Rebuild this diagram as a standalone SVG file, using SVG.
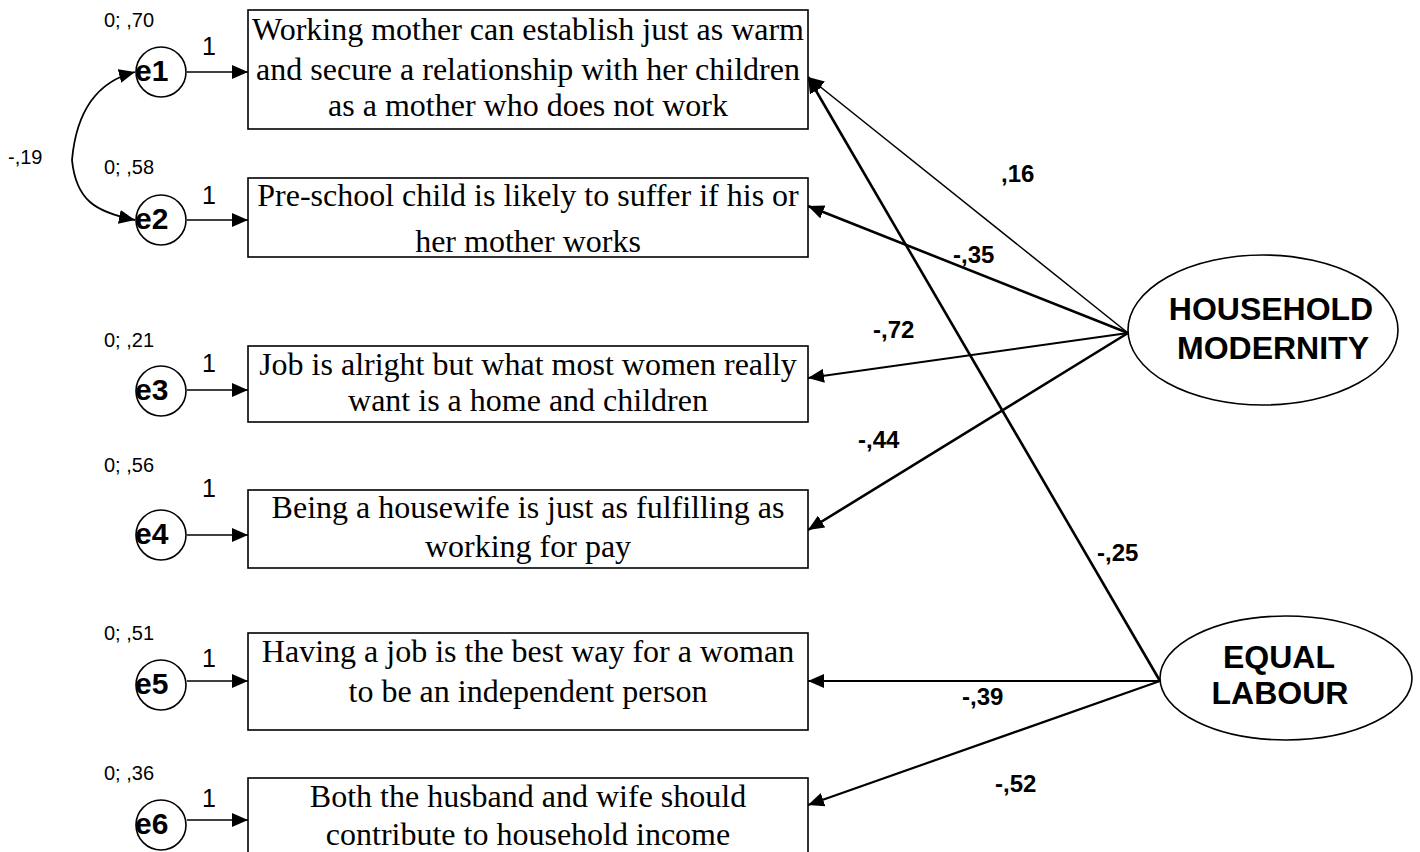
<svg xmlns="http://www.w3.org/2000/svg" width="1420" height="852" viewBox="0 0 1420 852">
<style>
.box{fill:#fff;stroke:#000;stroke-width:1.6}
.bt{font-family:"Liberation Serif","Times New Roman",serif;font-size:32px;text-anchor:middle;fill:#000}
.err{fill:#fff;stroke:#000;stroke-width:1.6}
.et{font-family:"Liberation Sans",Arial,sans-serif;font-size:30px;font-weight:bold;fill:#000}
.sm{font-family:"Liberation Sans",Arial,sans-serif;font-size:20px;fill:#000}
.one{font-family:"Liberation Sans",Arial,sans-serif;font-size:25px;fill:#000}
.lat{fill:#fff;stroke:#000;stroke-width:1.6}
.lt{font-family:"Liberation Sans",Arial,sans-serif;font-size:32px;font-weight:bold;text-anchor:middle;fill:#000}
.pl{font-family:"Liberation Sans",Arial,sans-serif;font-size:24px;font-weight:bold;fill:#000}
.ln{fill:none;stroke:#000;marker-end:url(#ah)}
</style>
<defs>
<marker id="ah" viewBox="0 0 16 14" refX="16" refY="7" markerWidth="16" markerHeight="14" markerUnits="userSpaceOnUse" orient="auto">
<path d="M0,0 L16,7 L0,14 z" fill="#000"/>
</marker>
</defs>
<rect width="1420" height="852" fill="#fff"/>

<g id="connectors">
<path class="ln" style="stroke-width:1.6" d="M187,72 L248,72"/>
<path class="ln" style="stroke-width:1.6" d="M187,220 L248,220"/>
<path class="ln" style="stroke-width:1.6" d="M187,390 L248,390"/>
<path class="ln" style="stroke-width:1.6" d="M187,535 L248,535"/>
<path class="ln" style="stroke-width:1.6" d="M187,681 L248,681"/>
<path class="ln" style="stroke-width:1.6" d="M187,820 L248,820"/>
<path class="ln" style="stroke-width:1.8" d="M72,160 C76,115 95,82 135,72"/>
<path class="ln" style="stroke-width:1.8" d="M72,160 C76,200 95,212 135,220"/>
<path class="ln" style="stroke-width:1.5" d="M1128,333 L808,77"/>
<path class="ln" style="stroke-width:2.6" d="M1128,333 L808,206"/>
<path class="ln" style="stroke-width:1.8" d="M1128,333 L808,378"/>
<path class="ln" style="stroke-width:2.6" d="M1128,333 L808,530"/>
<path class="ln" style="stroke-width:2.6" d="M1160,681 L808,77"/>
<path class="ln" style="stroke-width:2" d="M1160,681 L808,681"/>
<path class="ln" style="stroke-width:2.2" d="M1160,681 L808,805"/>
<text class="sm" x="8" y="164">-,19</text>
<text class="pl" x="1001" y="182">,16</text>
<text class="pl" x="953" y="263">-,35</text>
<text class="pl" x="873" y="338">-,72</text>
<text class="pl" x="858" y="448">-,44</text>
<text class="pl" x="1097" y="561">-,25</text>
<text class="pl" x="962" y="705">-,39</text>
<text class="pl" x="995" y="792">-,52</text>
<text class="one" x="202" y="55">1</text>
<text class="one" x="202" y="204">1</text>
<text class="one" x="202" y="372">1</text>
<text class="one" x="202" y="497">1</text>
<text class="one" x="202" y="667">1</text>
<text class="one" x="202" y="807">1</text>
</g>

<g id="e1"><circle class="err" cx="161" cy="72" r="25"/><text class="et" x="135" y="81">e1</text><text class="sm" x="104" y="27">0; ,70</text></g>
<g id="e2"><circle class="err" cx="161" cy="220" r="25"/><text class="et" x="135" y="229">e2</text><text class="sm" x="104" y="174">0; ,58</text></g>
<g id="e3"><circle class="err" cx="161" cy="391" r="25"/><text class="et" x="135" y="400">e3</text><text class="sm" x="104" y="347">0; ,21</text></g>
<g id="e4"><circle class="err" cx="161" cy="535" r="25"/><text class="et" x="135" y="544">e4</text><text class="sm" x="104" y="472">0; ,56</text></g>
<g id="e5"><circle class="err" cx="161" cy="685" r="25"/><text class="et" x="135" y="694">e5</text><text class="sm" x="104" y="640">0; ,51</text></g>
<g id="e6"><circle class="err" cx="161" cy="825" r="25"/><text class="et" x="135" y="834">e6</text><text class="sm" x="104" y="780">0; ,36</text></g>

<g id="box1"><rect class="box" x="248" y="10" width="560" height="119"/>
<text class="bt" x="528" y="40">Working mother can establish just as warm</text>
<text class="bt" x="528" y="80">and secure a relationship with her children</text>
<text class="bt" x="528" y="116">as a mother who does not work</text></g>
<g id="box2"><rect class="box" x="248" y="178" width="560" height="79"/>
<text class="bt" x="528" y="206">Pre-school child is likely to suffer if his or</text>
<text class="bt" x="528" y="252">her mother works</text></g>
<g id="box3"><rect class="box" x="248" y="346" width="560" height="76"/>
<text class="bt" x="528" y="375">Job is alright but what most women really</text>
<text class="bt" x="528" y="411">want is a home and children</text></g>
<g id="box4"><rect class="box" x="248" y="490" width="560" height="78"/>
<text class="bt" x="528" y="518">Being a housewife is just as fulfilling as</text>
<text class="bt" x="528" y="557">working for pay</text></g>
<g id="box5"><rect class="box" x="248" y="633" width="560" height="97"/>
<text class="bt" x="528" y="662">Having a job is the best way for a woman</text>
<text class="bt" x="528" y="702">to be an independent person</text></g>
<g id="box6"><rect class="box" x="248" y="778" width="560" height="90"/>
<text class="bt" x="528" y="807">Both the husband and wife should</text>
<text class="bt" x="528" y="845">contribute to household income</text></g>

<g id="household"><ellipse class="lat" cx="1263" cy="330" rx="135" ry="75"/>
<text class="lt" x="1271" y="320">HOUSEHOLD</text>
<text class="lt" x="1273" y="359">MODERNITY</text></g>
<g id="equal"><ellipse class="lat" cx="1286" cy="678" rx="126" ry="62"/>
<text class="lt" x="1279" y="668">EQUAL</text>
<text class="lt" x="1280" y="704">LABOUR</text></g>
</svg>
